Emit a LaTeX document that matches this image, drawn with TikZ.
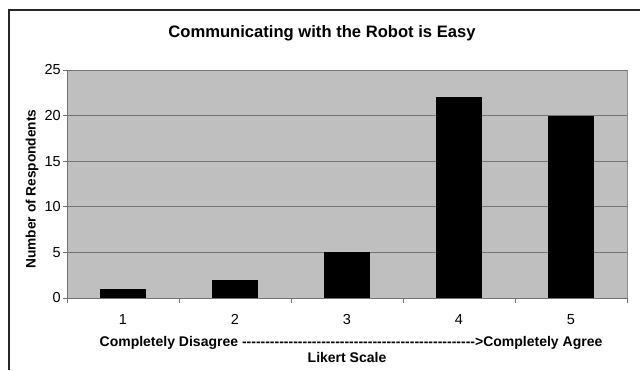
\documentclass[tikz,border=0pt]{standalone}
\usepackage{fontspec}
\setmainfont{Liberation Sans}[Ligatures=TeXOff]
\begin{document}
\begin{tikzpicture}[x=1pt,y=1pt,
  bar/.style={fill=black,draw=none},
  grid/.style={draw=black!55,line width=0.8pt},
  axis/.style={draw=black!55,line width=0.9pt},
  ticklab/.style={font=\fontsize{14.5}{15}\selectfont,inner sep=0pt},
  boldlab/.style={font=\bfseries\fontsize{14}{15}\selectfont,inner sep=0pt}]
\useasboundingbox (0,0) rectangle (640,370);
% outer frame (cropped at right and bottom)
\draw[line width=1.4pt,black!85] (9,0) -- (9,360) -- (640,360);
% plot area
\fill[black!25] (67,72) rectangle (627,300);
\foreach \v in {5,10,15,20,25} {
  \draw[grid] (67,{72+9.12*\v}) -- (627,{72+9.12*\v});
}
\draw[black!45,line width=0.8pt] (627,72) -- (627,300);
% bars
\foreach \c/\v [count=\i] in {123/1,235/2,347/5,459/22,571/20} {
  \fill[bar] ({\c-23},72) rectangle ({\c+23},{72+9.12*\v});
  \node[ticklab,anchor=base] (x\i) at (\c,46) {\i};
}
% axes
\draw[axis] (67,72) -- (67,300);
\draw[axis] (67,72) -- (627,72);
\foreach \k in {0,...,5} \draw[axis] ({67+112*\k},72) -- ({67+112*\k},67);
\foreach \v in {0,5,10,15,20,25} {
  \draw[axis] (63,{72+9.12*\v}) -- (67,{72+9.12*\v});
  \node[ticklab,anchor=east] (y\v) at (61,{72+9.12*\v}) {\v};
}
% labels
\node[font=\bfseries\fontsize{16.6}{17}\selectfont,inner sep=0pt] (title) at (322,337) {Communicating with the Robot is Easy};
\node[font=\bfseries\fontsize{13.7}{15}\selectfont,inner sep=0pt,rotate=90] (ylab) at (32,181) {Number of Respondents};
\node[boldlab,anchor=base] (scale) at (351,24) {Completely Disagree -------------------------------------------------->Completely Agree};
\node[boldlab,anchor=base] (likert) at (347,8) {Likert Scale};
\end{tikzpicture}
\end{document}
